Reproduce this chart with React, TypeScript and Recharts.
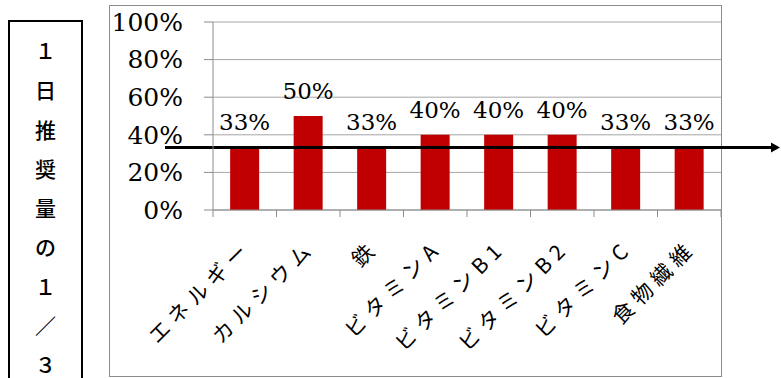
import { Bar, BarChart, CartesianGrid, LabelList, ReferenceLine, XAxis, YAxis } from 'recharts'

const categories = ['エネルギー', 'カルシウム', '鉄', 'ビタミンA', 'ビタミンB1', 'ビタミンB2', 'ビタミンC', '食物繊維']
const ratios = [0.333, 0.5, 0.333, 0.4, 0.4, 0.4, 0.333, 0.333]
const yTicks = [0, 0.2, 0.4, 0.6, 0.8, 1]
const target = 0.333
const sideLabel = ['１', '日', '推', '奨', '量', 'の', '１', '／', '３']

const data = categories.map((name, i) => ({ name, ratio: ratios[i] }))

const RED = '#c00000'
const GRID = '#a6a6a6'
const AXIS = '#8c8c8c'
const SERIF = '"DejaVu Serif", "Liberation Serif", serif'
const JP = '"Noto Sans CJK JP", sans-serif'

const pct = (v: number) => `${Math.round(v * 100)}%`

function CategoryTick(props: any) {
  const { x, y, payload, width, index } = props
  const half = payload?.offset || width / categories.length / 2
  const ax = x + 3
  const ay = y + 34
  return (
    <g>
      <line x1={x - half} y1={y} x2={x - half} y2={y + 7} stroke={AXIS} />
      {index === categories.length - 1 && (
        <line x1={x + half} y1={y} x2={x + half} y2={y + 7} stroke={AXIS} />
      )}
      <text
        x={ax}
        y={ay}
        dy="0.35em"
        textAnchor="end"
        transform={`rotate(-45 ${ax} ${ay})`}
        fontSize={21}
        letterSpacing={6}
        fontFamily={JP}
        fill="#000"
      >
        {payload.value}
      </text>
    </g>
  )
}

function ArrowLine(props: any) {
  const { x1, y1, x2 } = props
  const left = x1 - 48
  const right = x2 + 59
  return (
    <g>
      <line x1={left} y1={y1} x2={right - 6} y2={y1} stroke="#000" strokeWidth={3} />
      <polygon points={`${right},${y1} ${right - 9},${y1 - 5} ${right - 9},${y1 + 5}`} fill="#000" />
    </g>
  )
}

export default function App() {
  return (
    <div style={{ position: 'relative', width: 781, height: 378, overflow: 'hidden', background: '#fff' }}>
      <style>{'body{margin:0}'}</style>
      <div
        style={{
          position: 'absolute',
          left: 8,
          top: 20,
          width: 71,
          height: 380,
          border: '2px solid #000',
          paddingTop: 9,
          boxSizing: 'content-box',
          fontFamily: JP,
          fontSize: 21,
          fontWeight: 500,
          lineHeight: '39.3px',
          textAlign: 'center',
          color: '#000',
        }}
      >
        {sideLabel.map((c, i) => (
          <div key={i}>{c}</div>
        ))}
      </div>
      <div
        style={{
          position: 'absolute',
          left: 109,
          top: 5,
          width: 611,
          height: 370,
          border: `1px solid ${AXIS}`,
        }}
      />
      <div style={{ position: 'absolute', left: 0, top: 0 }}>
        <BarChart
          width={781}
          height={378}
          data={data}
          margin={{ top: 22, right: 60, left: 113, bottom: 8 }}
          barCategoryGap="27%"
        >
          <CartesianGrid vertical={false} stroke={GRID} />
          <XAxis
            dataKey="name"
            height={160}
            stroke={AXIS}
            tickLine={false}
            tickSize={0}
            tickMargin={0}
            interval={0}
            tick={<CategoryTick />}
          />
          <YAxis
            width={100}
            domain={[0, 1]}
            ticks={yTicks}
            tickFormatter={pct}
            stroke={AXIS}
            tickSize={9}
            tickMargin={21}
            tick={{ fill: '#000', fontSize: 25, fontFamily: SERIF }}
          />
          <Bar dataKey="ratio" fill={RED} isAnimationActive={false}>
            <LabelList
              dataKey="ratio"
              position="top"
              offset={17}
              formatter={(v: any) => pct(Number(v))}
              fill="#000"
              fontSize={23}
              fontFamily={SERIF}
            />
          </Bar>
          <ReferenceLine y={target} ifOverflow="visible" shape={<ArrowLine />} />
        </BarChart>
      </div>
    </div>
  )
}
